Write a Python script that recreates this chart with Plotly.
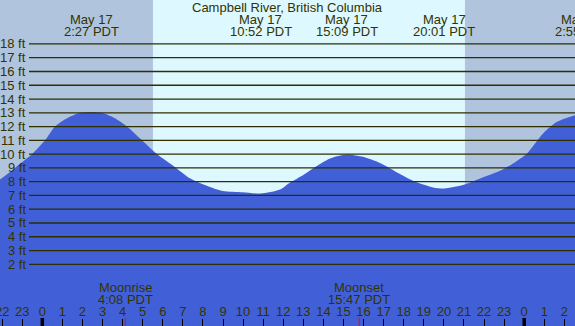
import plotly.graph_objects as go

# ---------------- data ----------------
title_text = "Campbell River, British Columbia"

# tide curve (hours relative to midnight May 17, height in ft)
tide_hours = [-2.106, -1.359, -0.513, 0.134, 0.632, 1.228, 1.776, 2.425, 3.073, 3.621,
              4.218, 4.965, 5.712, 6.658, 7.355, 8.35, 8.99, 9.99, 10.87, 11.84,
              12.34, 12.98, 13.48, 14.33, 15.15, 15.97, 16.82, 17.81, 18.46, 19.46,
              20.02, 20.95, 21.8, 22.8, 23.44, 24.14, 24.94, 25.63, 26.53]
tide_ft = [8.15, 9.0, 10.0, 11.0, 12.0, 12.6, 12.95, 13.05, 12.95, 12.6,
           12.0, 11.0, 10.0, 9.0, 8.25, 7.62, 7.33, 7.24, 7.14, 7.43,
           7.94, 8.47, 8.96, 9.69, 9.98, 9.8, 9.35, 8.55, 8.06, 7.58,
           7.5, 7.75, 8.23, 8.79, 9.32, 10.05, 11.5, 12.35, 12.83]

# tide events (label lines, hour)
event_hours = [2.45, 10.867, 15.15, 20.017, 26.92]
event_dates = ["May 17", "May 17", "May 17", "May 17", "May 18"]
event_times = ["2:27 PDT", "10:52 PDT", "15:09 PDT", "20:01 PDT", "2:55 PDT"]

# sun
sunrise_h = 5.51
sunset_h = 21.05

# moon
moon_hours = [4.133, 15.783]
moon_names = ["Moonrise", "Moonset"]
moon_times = ["4:08 PDT", "15:47 PDT"]

# axes
x_min, x_max = -2.107, 26.53
y_min, y_max = -2.48, 21.19
y_ticks = list(range(2, 19))
y_tick_labels = [f"{v} ft" for v in y_ticks]
x_ticks = list(range(-2, 27))
x_tick_labels = ["22", "23"] + [str(h % 24) for h in range(0, 27)]
midnights = [0, 24]

# ---------------- style ----------------
W, H = 575, 326
FONT = "Liberation Sans, Arial, sans-serif"
TXT = "#333300"
NIGHT = "#B0C4DE"
DAY = "#DDF8FF"
WATER = "#4160D8"
GRID = "#2E2E00"


def py(px):  # pixel from top -> paper y
    return 1 - px / H


def hx(h):  # hour -> paper x
    return (h - x_min) / (x_max - x_min)


fig = go.Figure()

# baseline for fill
fig.add_trace(go.Scatter(x=[x_min, x_max], y=[y_min, y_min], mode="lines",
                         line=dict(width=0, color=WATER), hoverinfo="skip",
                         showlegend=False))
fig.add_trace(go.Scatter(x=tide_hours, y=tide_ft, mode="lines",
                         line=dict(width=0, color=WATER, shape="spline", smoothing=0.7),
                         fill="tonexty", fillcolor=WATER, showlegend=False))

shapes = []
# night/day shading
for x0, x1, c in [(x_min, sunrise_h, NIGHT), (sunrise_h, sunset_h, DAY), (sunset_h, x_max, NIGHT)]:
    shapes.append(dict(type="rect", xref="x", yref="paper", x0=x0, x1=x1, y0=0, y1=1,
                       fillcolor=c, line=dict(width=0), layer="below"))
# gridlines
for v in y_ticks:
    shapes.append(dict(type="line", xref="paper", yref="y", x0=29 / W, x1=1, y0=v, y1=v,
                       line=dict(color=GRID, width=1.3), layer="above"))
# midnight ticks
for m in midnights:
    shapes.append(dict(type="line", xref="x", yref="paper", x0=m, x1=m, y0=0, y1=8 / H,
                       line=dict(color="black", width=3.5)))
# moon ticks
for m in moon_hours:
    shapes.append(dict(type="line", xref="x", yref="paper", x0=m, x1=m, y0=0, y1=8 / H,
                       line=dict(color="red", width=1)))

ann = []
f = dict(family=FONT, size=13, color=TXT)
ann.append(dict(text=title_text, xref="paper", yref="paper", x=0.5, y=py(7.5),
                xanchor="center", yanchor="middle", showarrow=False, font=f))
for h, d, t in zip(event_hours, event_dates, event_times):
    ann.append(dict(text=d, xref="paper", yref="paper", x=hx(h), y=py(19.5),
                    xanchor="center", yanchor="middle", showarrow=False, font=f))
    ann.append(dict(text=t, xref="paper", yref="paper", x=hx(h), y=py(31.2),
                    xanchor="center", yanchor="middle", showarrow=False, font=f))
for h, n, t in zip(moon_hours, moon_names, moon_times):
    ann.append(dict(text=n, xref="paper", yref="paper", x=hx(h), y=py(287),
                    xanchor="center", yanchor="middle", showarrow=False, font=f))
    ann.append(dict(text=t, xref="paper", yref="paper", x=hx(h), y=py(299.3),
                    xanchor="center", yanchor="middle", showarrow=False, font=f))
for v, lab in zip(y_ticks, y_tick_labels):
    ann.append(dict(text=lab, xref="paper", yref="y", x=27.5 / W, y=v,
                    xanchor="right", yanchor="middle", showarrow=False, font=f))

fig.update_layout(
    width=W, height=H, margin=dict(l=0, r=0, t=0, b=0, autoexpand=False),
    paper_bgcolor=NIGHT, plot_bgcolor=NIGHT,
    shapes=shapes, annotations=ann, showlegend=False,
    xaxis=dict(range=[x_min, x_max], tickvals=x_ticks, ticktext=x_tick_labels,
               ticks="inside", ticklen=7, tickwidth=1, tickcolor="black",
               ticklabelposition="inside", ticklabeloverflow="allow",
               tickfont=dict(family=FONT, size=13, color=TXT), automargin=False,
               showgrid=False, zeroline=False, showline=False, fixedrange=True),
    yaxis=dict(range=[y_min, y_max], visible=False, showgrid=False, zeroline=False,
               automargin=False, fixedrange=True),
)

fig.write_html("out.html", config={"displayModeBar": False},
               post_script="document.body.style.margin='0';")
